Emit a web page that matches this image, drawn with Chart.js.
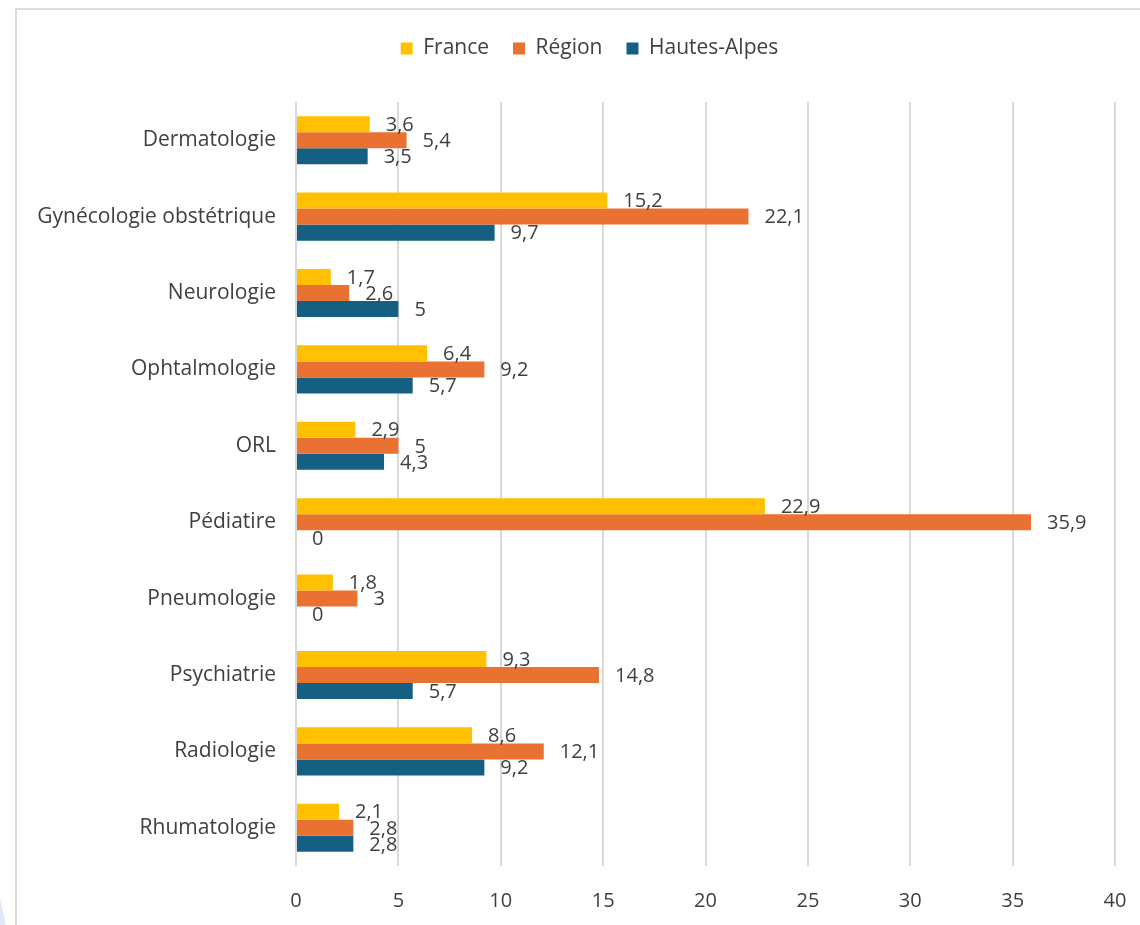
<!DOCTYPE html>
<html>
<head>
<meta charset="utf-8">
<script src="https://cdn.jsdelivr.net/npm/chart.js@4.4.1/dist/chart.umd.min.js"></script>
<style>
  html, body { margin: 0; padding: 0; background: #ffffff; overflow: hidden; }
  #frame { position: absolute; left: 15px; top: 8px; width: 1140px; height: 940px; border: 2px solid #dcdcdc; box-sizing: border-box; }
  #deco { position: absolute; left: 0; top: 898px; width: 6px; height: 27px; background: #dde9f7; clip-path: polygon(0 100%, 100% 100%, 0 0); }
  #wrap { position: absolute; left: 0; top: 0; width: 1140px; height: 925px; }
</style>
</head>
<body>
<div id="frame"></div>
<div id="deco"></div>
<div id="wrap"><canvas id="c" width="1140" height="925"></canvas></div>
<script>
const categories = ["Dermatologie", "Gynécologie obstétrique", "Neurologie", "Ophtalmologie", "ORL", "Pédiatire", "Pneumologie", "Psychiatrie", "Radiologie", "Rhumatologie"];
const seriesNames = ["France", "Région", "Hautes-Alpes"];
const franceValues = [3.6, 15.2, 1.7, 6.4, 2.9, 22.9, 1.8, 9.3, 8.6, 2.1];
const regionValues = [5.4, 22.1, 2.6, 9.2, 5, 35.9, 3, 14.8, 12.1, 2.8];
const hautesAlpesValues = [3.5, 9.7, 5, 5.7, 4.3, 0, 0, 5.7, 9.2, 2.8];
const xTicks = [0, 5, 10, 15, 20, 25, 30, 35, 40];

const FONT = "'Open Sans', 'Noto Sans', sans-serif";
const colors = ["#FFC000", "#E97132", "#156082"];

const valueLabels = {
  id: 'valueLabels',
  afterDatasetsDraw(chart) {
    const ctx = chart.ctx;
    ctx.save();
    ctx.font = "20px " + FONT;
    ctx.fillStyle = "#404040";
    ctx.textAlign = "left";
    ctx.textBaseline = "middle";
    chart.data.datasets.forEach((ds, i) => {
      const meta = chart.getDatasetMeta(i);
      meta.data.forEach((bar, j) => {
        const v = ds.data[j];
        const txt = String(v).replace('.', ',');
        ctx.fillText(txt, bar.x + 16, bar.y + 1);
      });
    });
    ctx.restore();
  }
};

const legendTweak = {
  id: 'legendTweak',
  beforeUpdate(chart) {
    const lg = chart.legend;
    if (lg && !lg._patchedFit) {
      const orig = lg.fit.bind(lg);
      lg.fit = function () { orig(); this.height = 88; };
      lg._patchedFit = true;
    }
  },
  afterLayout(chart) {
    const lg = chart.legend;
    if (lg) { lg.left = 56; lg.right = 1123; lg.width = lg.right - lg.left; }
  }
};

new Chart(document.getElementById('c'), {
  type: 'bar',
  data: {
    labels: categories,
    datasets: [
      { label: seriesNames[0], data: franceValues, backgroundColor: colors[0] },
      { label: seriesNames[1], data: regionValues, backgroundColor: colors[1] },
      { label: seriesNames[2], data: hautesAlpesValues, backgroundColor: colors[2] }
    ]
  },
  options: {
    indexAxis: 'y',
    responsive: false,
    animation: false,
    devicePixelRatio: 1,
    barPercentage: 1,
    categoryPercentage: 0.63,
    layout: { padding: { left: 16, right: 25, top: 14, bottom: 0 } },
    plugins: {
      legend: {
        position: 'top',
        labels: {
          boxWidth: 12, boxHeight: 12, padding: 24,
          color: '#404040',
          font: { family: FONT, size: 21 }
        }
      },
      tooltip: { enabled: false }
    },
    scales: {
      x: {
        min: 0, max: 40,
        afterBuildTicks(scale) { scale.ticks = xTicks.map(v => ({ value: v })); },
        afterFit(scale) { scale.height = 59; scale.paddingRight = 25; scale.paddingLeft = 0; },
        grid: { color: '#d9d9d9', lineWidth: 2, drawTicks: false },
        border: { display: false },
        ticks: { color: '#404040', font: { family: FONT, size: 20 }, padding: 23 }
      },
      y: {
        grid: { display: false, drawTicks: false },
        border: { display: false },
        afterFit(scale) { scale.width = 280; },
        ticks: { color: '#404040', font: { family: FONT, size: 21 }, padding: 20, autoSkip: false }
      }
    }
  },
  plugins: [valueLabels, legendTweak]
});
</script>
</body>
</html>
